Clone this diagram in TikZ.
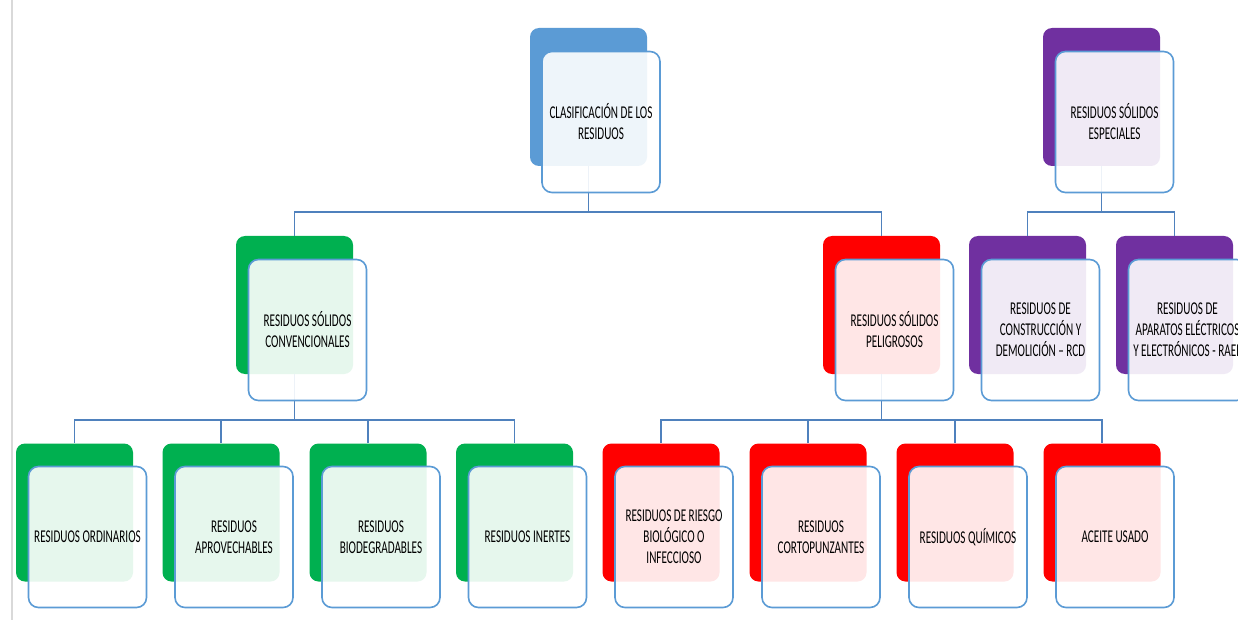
\documentclass[tikz,border=0pt]{standalone}
\usepackage{fontspec}
\setmainfont{Carlito}[FakeStretch=0.62]
\usepackage{xcolor}
\usepackage{tikz}

\definecolor{azul}{HTML}{5B9BD5}
\definecolor{linea}{HTML}{4F81BD}
\definecolor{verde}{HTML}{00B050}
\definecolor{rojo}{HTML}{FF0000}
\definecolor{morado}{HTML}{7030A0}
\definecolor{gris}{HTML}{D9D9D9}

\tikzset{
  fondo/.style={rectangle, rounded corners=9pt, minimum width=117pt, minimum height=138pt, inner sep=0pt, fill=#1},
  tarjeta/.style={rectangle, rounded corners=10pt, draw=azul, line width=1.6pt, fill=white, fill opacity=0.9, text opacity=1, minimum width=118pt, minimum height=141pt, inner sep=0pt, align=center, font=\fontsize{18}{21}\selectfont},
  rama/.style={draw=linea, line width=1.5pt}
}

\begin{document}
\begin{tikzpicture}[x=1pt, y=-1pt]
            \useasboundingbox (0,0) rectangle (1238,620);
            \fill [white] (0,0) rectangle (1238,620);
            \clip (0,0) rectangle (1238,620);
            \draw [gris, line width=1.2pt] (12,0) -- (12,620);
            % back boxes
            \node (clasB) at (588.5, 97) [fondo=azul] {};
            \node (espB) at (1101.5, 97) [fondo=morado] {};
            \node (convB) at (294.5, 305) [fondo=verde] {};
            \node (pelB) at (881.5, 305) [fondo=rojo] {};
            \node (rcdB) at (1027.5, 305) [fondo=morado] {};
            \node (raeeB) at (1174.5, 305) [fondo=morado] {};
            \node (ordB) at (74.5, 512.5) [fondo=verde] {};
            \node (aprB) at (221, 512.5) [fondo=verde] {};
            \node (bioB) at (368, 512.5) [fondo=verde] {};
            \node (ineB) at (514.5, 512.5) [fondo=verde] {};
            \node (bilB) at (661, 512.5) [fondo=rojo] {};
            \node (corB) at (808, 512.5) [fondo=rojo] {};
            \node (quiB) at (955, 512.5) [fondo=rojo] {};
            \node (aceB) at (1102, 512.5) [fondo=rojo] {};
            % connectors
            \draw [rama] (clasB.south) -- ++(0,46) -| (convB.north);
            \draw [rama] (clasB.south) -- ++(0,46) -| (pelB.north);
            \draw [rama] (espB.south) -- ++(0,46) -| (rcdB.north);
            \draw [rama] (espB.south) -- ++(0,46) -| (raeeB.north);
            \draw [rama] (convB.south) -- ++(0,46) -| (ordB.north);
            \draw [rama] (convB.south) -- ++(0,46) -| (aprB.north);
            \draw [rama] (convB.south) -- ++(0,46) -| (bioB.north);
            \draw [rama] (convB.south) -- ++(0,46) -| (ineB.north);
            \draw [rama] (pelB.south) -- ++(0,46) -| (bilB.north);
            \draw [rama] (pelB.south) -- ++(0,46) -| (corB.north);
            \draw [rama] (pelB.south) -- ++(0,46) -| (quiB.north);
            \draw [rama] (pelB.south) -- ++(0,46) -| (aceB.north);
            % front boxes
            \node (clas) at (601, 122) [tarjeta] {CLASIFICACIÓN DE LOS\\RESIDUOS};
            \node (esp) at (1114.5, 122) [tarjeta] {RESIDUOS SÓLIDOS\\ESPECIALES};
            \node (conv) at (307.5, 330) [tarjeta] {RESIDUOS SÓLIDOS\\CONVENCIONALES};
            \node (pel) at (894.5, 330) [tarjeta] {RESIDUOS SÓLIDOS\\PELIGROSOS};
            \node (rcd) at (1040.5, 330) [tarjeta] {RESIDUOS DE\\CONSTRUCCIÓN Y\\DEMOLICIÓN – RCD};
            \node (raee) at (1187.5, 330) [tarjeta] {RESIDUOS DE\\APARATOS ELÉCTRICOS\\Y ELECTRÓNICOS - RAEE};
            \node (ord) at (87.5, 537) [tarjeta] {RESIDUOS ORDINARIOS};
            \node (apr) at (234, 537) [tarjeta] {RESIDUOS\\APROVECHABLES};
            \node (bio) at (381, 537) [tarjeta] {RESIDUOS\\BIODEGRADABLES};
            \node (ine) at (527.5, 537) [tarjeta] {RESIDUOS INERTES};
            \node (bil) at (674, 537) [tarjeta] {RESIDUOS DE RIESGO\\BIOLÓGICO O\\INFECCIOSO};
            \node (cor) at (821, 537) [tarjeta] {RESIDUOS\\CORTOPUNZANTES};
            \node (qui) at (968, 537) [tarjeta] {RESIDUOS QUÍMICOS};
            \node (ace) at (1115, 537) [tarjeta] {ACEITE USADO};
        \end{tikzpicture}
\end{document}
